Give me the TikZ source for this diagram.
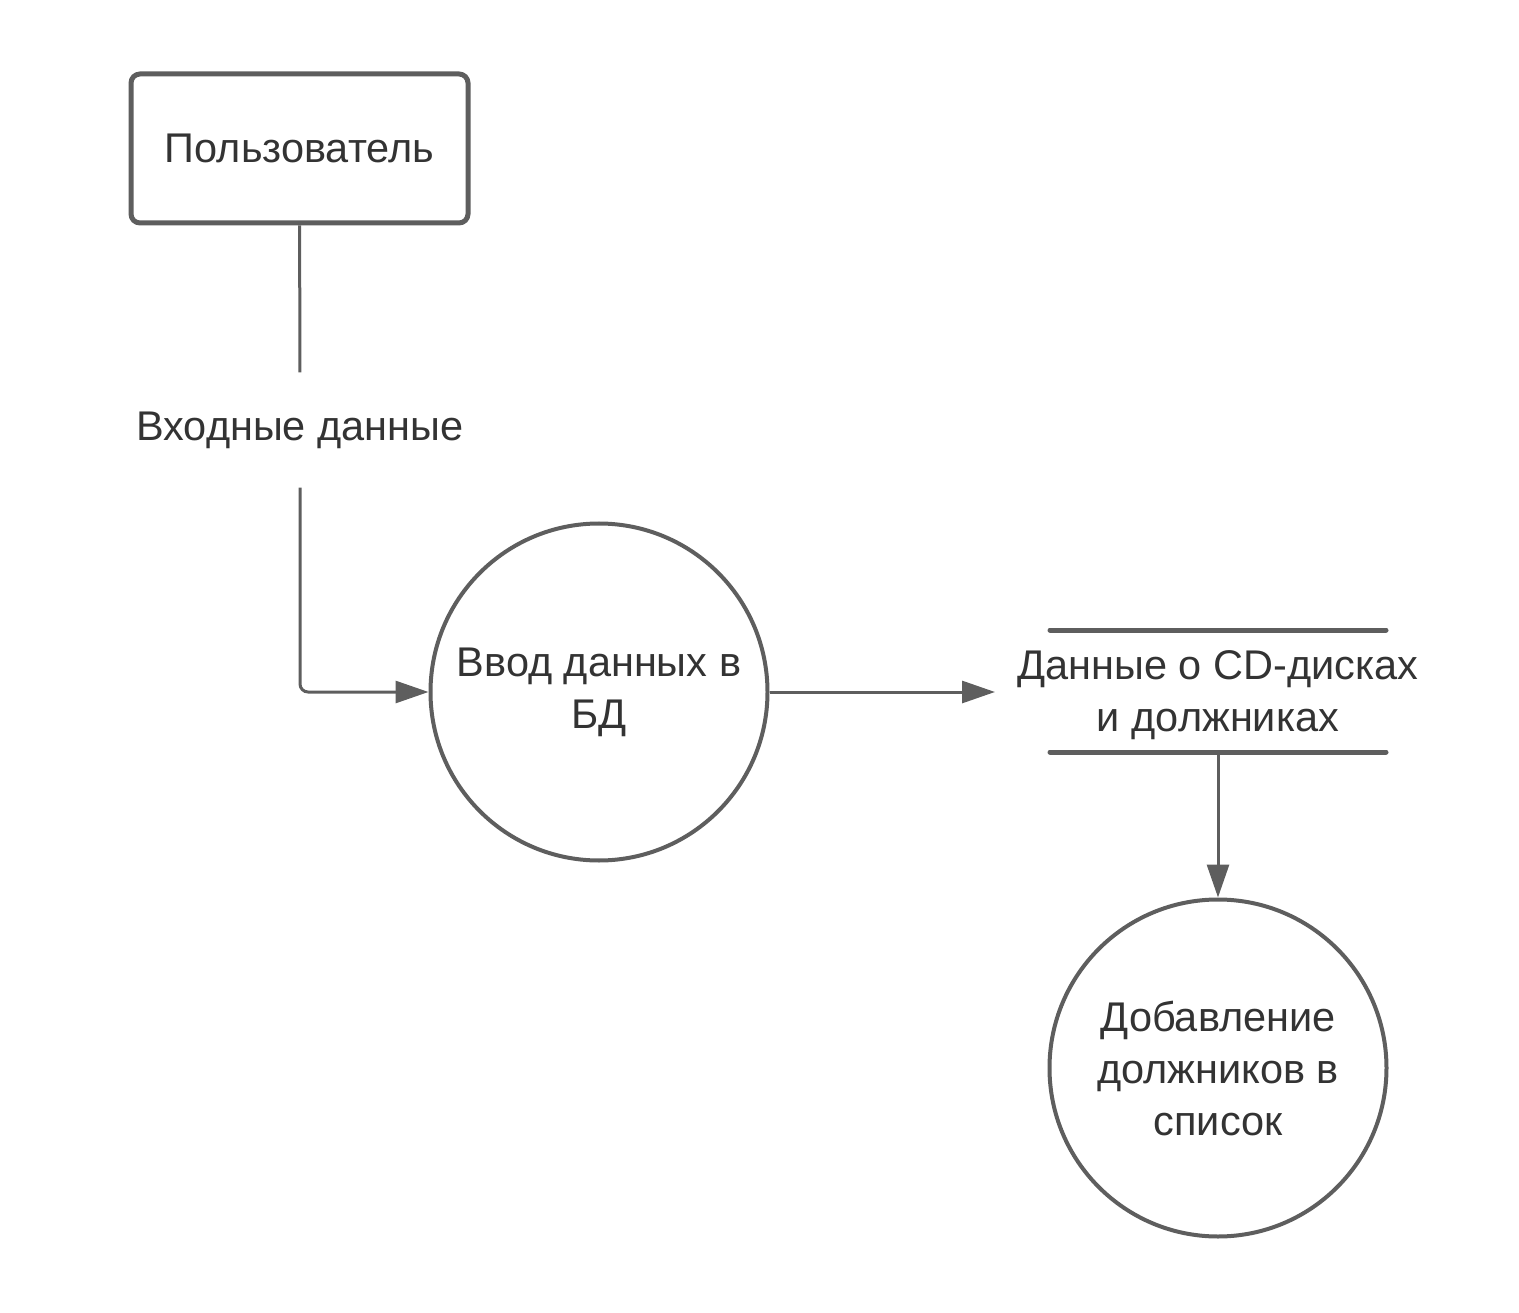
\documentclass[tikz,border=0pt]{standalone}
\usepackage{fontspec}
\setmainfont{Liberation Sans}
\usetikzlibrary{arrows.meta,positioning}
\definecolor{linegray}{HTML}{5E5E5E}
\definecolor{textgray}{HTML}{333333}
\tikzset{
  flowtext/.style={text=textgray, font=\fontsize{41.5}{52}\selectfont, align=center},
  entity/.style={flowtext, draw=linegray, line width=5pt, rounded corners=9pt,
    minimum width=337pt, minimum height=149pt},
  process/.style={flowtext, draw=linegray, line width=4pt, circle, minimum size=337pt, inner sep=0pt},
  store/.style={flowtext, inner sep=0pt},
  storeline/.style={draw=linegray, line width=5pt, line cap=round},
  flow/.style={draw=linegray, line width=3pt},
  flowarrow/.style={flow, -{Triangle[length=33pt,width=22pt]}}
}
\begin{document}
\begin{tikzpicture}[x=1pt,y=-1pt]
  \useasboundingbox (0,0) rectangle (1519,1313);

  % external entity
  \node[entity] (user) at (299.5,148.5) {Пользователь};

  % flow label
  \node[flowtext, minimum height=115pt, inner sep=0pt] (input) at (300,430) {Входные данные};

  % processes
  \node[process] (enter) at (599,692) {Ввод данных в\\БД};
  \node[process] (add) at (1218,1068) {Добавление\\должников в\\список};

  % data store
  \node[store] (data) at (1218,695) {Данные о CD-дисках\\и должниках};
  \draw[storeline] (data.center) ++(-168,-65) -- ++(336,0);
  \draw[storeline] (data.center) ++(-168,57) -- ++(336,0);
  \coordinate (datain) at ([xshift=-223pt,yshift=3pt]data.center);
  \coordinate (dataout) at ([yshift=-57pt]data.center);

  % flows
  \draw[flow] (user) -- (input);
  \draw[flowarrow, rounded corners=8pt] (input.south) |- (enter.west);
  \draw[flowarrow] (enter.east) -- (datain);
  \draw[flowarrow] (dataout) -- (add.north);
\end{tikzpicture}
\end{document}
